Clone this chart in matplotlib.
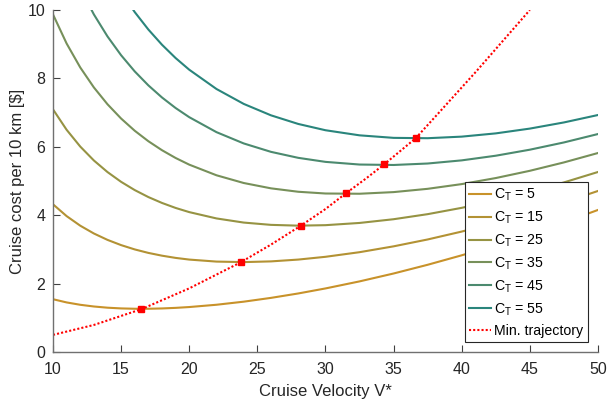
import matplotlib
matplotlib.use("Agg")
import matplotlib.pyplot as plt

plt.rcParams['font.family'] = ['Liberation Sans', 'DejaVu Sans']
plt.rcParams['mathtext.fontset'] = 'custom'
plt.rcParams['mathtext.rm'] = 'Liberation Sans'
plt.rcParams['mathtext.it'] = 'Liberation Sans:italic'

# velocity grid the curves were read at
V = [10, 11, 12, 13, 14, 15, 16, 17, 18, 19, 20, 22, 24, 26, 28, 30,
     32.5, 35, 37.5, 40, 42.5, 45, 47.5, 50]

# cruise cost per 10 km, one list per C_T
cost_5 = [1.543, 1.449, 1.380, 1.330, 1.295, 1.274, 1.264, 1.264, 1.273, 1.290, 1.314, 1.381, 1.471,
          1.582, 1.711, 1.858, 2.064, 2.295, 2.550, 2.827, 3.126, 3.447, 3.789, 4.153]
cost_15 = [4.319, 3.973, 3.693, 3.465, 3.278, 3.125, 2.999, 2.897, 2.816, 2.751, 2.702, 2.643, 2.628,
           2.649, 2.702, 2.783, 2.918, 3.089, 3.290, 3.521, 3.780, 4.064, 4.374, 4.708]
cost_25 = [7.095, 6.497, 6.007, 5.600, 5.261, 4.975, 4.734, 4.530, 4.358, 4.212, 4.090, 3.905, 3.784,
           3.717, 3.694, 3.708, 3.773, 3.882, 4.030, 4.215, 4.433, 4.681, 4.958, 5.263]
cost_35 = [9.871, 9.020, 8.320, 7.736, 7.244, 6.826, 6.469, 6.163, 5.900, 5.673, 5.478, 5.167, 4.941,
           4.785, 4.685, 4.634, 4.627, 4.675, 4.771, 4.909, 5.086, 5.298, 5.543, 5.818]
cost_45 = [12.647, 11.544, 10.633, 9.871, 9.227, 8.677, 8.204, 7.796, 7.442, 7.134, 6.866, 6.428, 6.098,
           5.852, 5.677, 5.559, 5.481, 5.468, 5.511, 5.603, 5.739, 5.915, 6.127, 6.373]
cost_55 = [15.423, 14.068, 12.947, 12.007, 11.210, 10.528, 9.939, 9.429, 8.984, 8.595, 8.254, 7.690, 7.254,
           6.920, 6.668, 6.484, 6.335, 6.261, 6.251, 6.297, 6.392, 6.532, 6.712, 6.929]

curves = [cost_5, cost_15, cost_25, cost_35, cost_45, cost_55]
labels = ['C$_{\\mathrm{T}}$ = 5', 'C$_{\\mathrm{T}}$ = 15', 'C$_{\\mathrm{T}}$ = 25',
          'C$_{\\mathrm{T}}$ = 35', 'C$_{\\mathrm{T}}$ = 45', 'C$_{\\mathrm{T}}$ = 55']
colors = ['#C8922A', '#B39234', '#969343', '#77905A', '#4C8A6F', '#2A857C']

# minimum-cost trajectory
traj_v = [10, 13, 16.48, 20, 23.77, 26, 28.18, 30, 31.5, 33, 34.32, 36.62, 38.4, 41.1, 45]
traj_c = [0.50, 0.79, 1.25, 1.86, 2.62, 3.14, 3.69, 4.18, 4.64, 5.08, 5.49, 6.25, 7.03, 8.22, 10.0]

# minima of each curve
min_v = [16.48, 23.77, 28.18, 31.50, 34.32, 36.62]
min_c = [1.25, 2.62, 3.69, 4.64, 5.49, 6.25]

fig = plt.figure(figsize=(6.07, 4.03), dpi=100)
ax = fig.add_axes([0.0873, 0.1266, 0.8978, 0.8486])

for c, lab, col in zip(curves, labels, colors):
    ax.plot(V, c, color=col, lw=1.5, label=lab)
ax.plot(traj_v, traj_c, color='red', ls=(0, (1, 1)), lw=1.5, label='Min. trajectory')
ax.plot(min_v, min_c, 's', color='red', ms=4.8, zorder=5)

ax.set_xlim(10, 50)
ax.set_ylim(0, 10)
ax.set_xticks([10, 15, 20, 25, 30, 35, 40, 45, 50])
ax.set_yticks([0, 2, 4, 6, 8, 10])
ax.set_xlabel('Cruise Velocity V*', fontsize=12, color='#262626', labelpad=5)
ax.set_ylabel('Cruise cost per 10 km [\\$]', fontsize=12, color='#262626', labelpad=2)

for s in ['top', 'right']:
    ax.spines[s].set_visible(False)
for s in ['left', 'bottom']:
    ax.spines[s].set_color('#707070')
    ax.spines[s].set_linewidth(1.0)
ax.tick_params(direction='in', length=5, width=0.8, color='#404040',
               labelsize=11.5, labelcolor='#262626')
ax.tick_params(axis='x', pad=7.5)
ax.tick_params(axis='y', pad=5.5)

leg = ax.legend(loc='lower right', bbox_to_anchor=(0.981, 0.028), borderaxespad=0,
                fontsize=10.2, fancybox=False, edgecolor='#262626', framealpha=1,
                handlelength=1.55, handletextpad=0.2, labelspacing=0.46, borderpad=0.3)
leg.get_frame().set_linewidth(0.8)

fig.savefig('out.png', dpi=100)
